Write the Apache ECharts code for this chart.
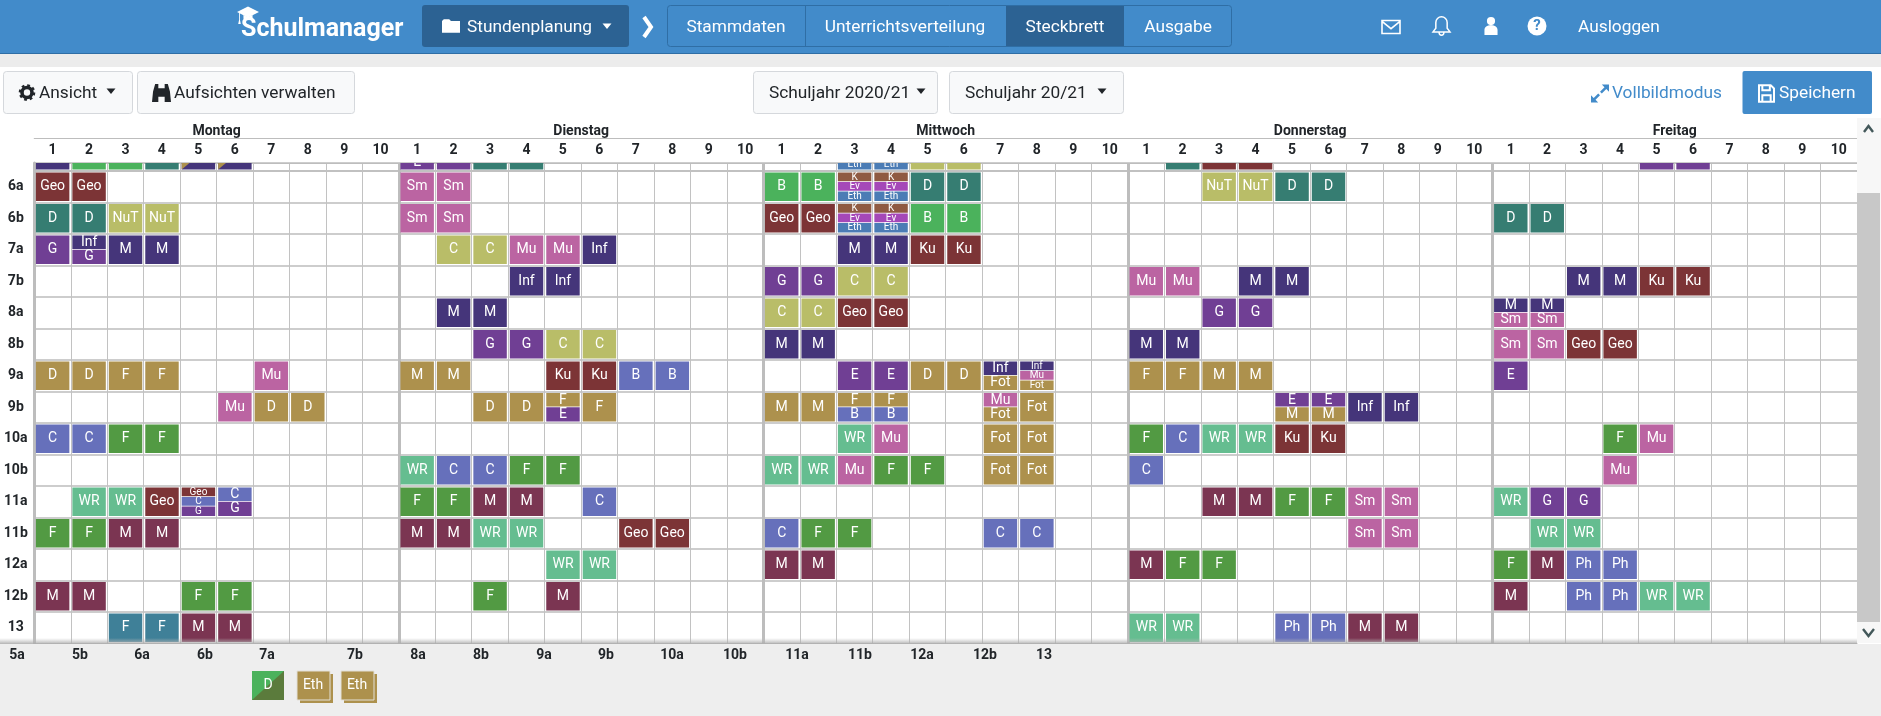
<!DOCTYPE html>
<html lang="de"><head><meta charset="utf-8"><title>Schulmanager Steckbrett</title>
<style>html,body{margin:0;padding:0;background:#fff;overflow:hidden}#c{width:1881px;height:716px}</style>
<script src="https://cdn.jsdelivr.net/npm/echarts@6/dist/echarts.min.js"></script></head>
<body><div id="c"></div>
<script>
// ---- categories / tick labels
const dayNames = ['Montag','Dienstag','Mittwoch','Donnerstag','Freitag'];
const periodNames = ['1','2','3','4','5','6','7','8','9','10'];
const classRows = ['6a','6b','7a','7b','8a','8b','9a','9b','10a','10b','11a','11b','12a','12b','13'];
const classTabs = ['5a','5b','6a','6b','7a','7b','8a','8b','9a','9b','10a','10b','11a','11b','12a','12b','13'];

// ---- teacher colours
const teacherColors = {I:'#45357a',P:'#703f94',R:'#7c3436',W:'#7b3552',K:'#bb64a2',T:'#ad914d',O:'#b9bd68',
  L:'#6670bb',G:'#529a43',A:'#4bb25c',M:'#65bd90',S:'#367d72',B:'#3f8098',N:'#8f5a42',V:'#a548b8',E:'#4b7cb5'};

// ---- lessons per class: [column 0-49, subjects, teacher colours, optional second teacher]
const row5b = [[0,'','I'],[1,'','A'],[2,'','A'],[3,'','S'],[4,'','I','T'],[5,'','I','T'],[10,'|E','P|P'],[11,'','P'],[12,'','S'],[13,'','S'],
  [22,'K|Ev|Eth','N|V|E'],[23,'K|Ev|Eth','N|V|E'],[24,'','O'],[25,'','O'],[31,'','S'],[32,'','R'],[33,'','R'],[44,'','P'],[45,'','P']];
const row6a = [[0,'Geo','R'],[1,'Geo','R'],[10,'Sm','K'],[11,'Sm','K'],[20,'B','A'],[21,'B','A'],[22,'K|Ev|Eth','N|V|E'],[23,'K|Ev|Eth','N|V|E'],
  [24,'D','S'],[25,'D','S'],[32,'NuT','O'],[33,'NuT','O'],[34,'D','S'],[35,'D','S']];
const row6b = [[0,'D','S'],[1,'D','S'],[2,'NuT','O'],[3,'NuT','O'],[10,'Sm','K'],[11,'Sm','K'],[20,'Geo','R'],[21,'Geo','R'],
  [22,'K|Ev|Eth','N|V|E'],[23,'K|Ev|Eth','N|V|E'],[24,'B','A'],[25,'B','A'],[40,'D','S'],[41,'D','S']];
const row7a = [[0,'G','P'],[1,'Inf|G','I|P'],[2,'M','I'],[3,'M','I'],[11,'C','O'],[12,'C','O'],[13,'Mu','K'],[14,'Mu','K'],[15,'Inf','I'],
  [22,'M','I'],[23,'M','I'],[24,'Ku','R'],[25,'Ku','R']];
const row7b = [[13,'Inf','I'],[14,'Inf','I'],[20,'G','P'],[21,'G','P'],[22,'C','O'],[23,'C','O'],[30,'Mu','K'],[31,'Mu','K'],[33,'M','I'],[34,'M','I'],
  [42,'M','I'],[43,'M','I'],[44,'Ku','R'],[45,'Ku','R']];
const row8a = [[11,'M','I'],[12,'M','I'],[20,'C','O'],[21,'C','O'],[22,'Geo','R'],[23,'Geo','R'],[32,'G','P'],[33,'G','P'],[40,'M|Sm','I|K'],[41,'M|Sm','I|K']];
const row8b = [[12,'G','P'],[13,'G','P'],[14,'C','O'],[15,'C','O'],[20,'M','I'],[21,'M','I'],[30,'M','I'],[31,'M','I'],[40,'Sm','K'],[41,'Sm','K'],[42,'Geo','R'],[43,'Geo','R']];
const row9a = [[0,'D','T'],[1,'D','T'],[2,'F','T'],[3,'F','T'],[6,'Mu','K'],[10,'M','T'],[11,'M','T'],[14,'Ku','R'],[15,'Ku','R'],[16,'B','L'],[17,'B','L'],
  [22,'E','P'],[23,'E','P'],[24,'D','T'],[25,'D','T'],[26,'Inf|Fot','I|T'],[27,'Inf|Mu|Fot','I|K|T'],[30,'F','T'],[31,'F','T'],[32,'M','T'],[33,'M','T'],[40,'E','P']];
const row9b = [[5,'Mu','K'],[6,'D','T'],[7,'D','T'],[12,'D','T'],[13,'D','T'],[14,'F|E','T|P'],[15,'F','T'],[20,'M','T'],[21,'M','T'],[22,'F|B','T|L'],[23,'F|B','T|L'],
  [26,'Mu|Fot','K|T'],[27,'Fot','T'],[34,'E|M','P|T'],[35,'E|M','P|T'],[36,'Inf','I'],[37,'Inf','I']];
const row10a = [[0,'C','L'],[1,'C','L'],[2,'F','G'],[3,'F','G'],[22,'WR','M'],[23,'Mu','K'],[26,'Fot','T'],[27,'Fot','T'],[30,'F','G'],[31,'C','L'],[32,'WR','M'],[33,'WR','M'],
  [34,'Ku','R'],[35,'Ku','R'],[43,'F','G'],[44,'Mu','K']];
const row10b = [[10,'WR','M'],[11,'C','L'],[12,'C','L'],[13,'F','G'],[14,'F','G'],[20,'WR','M'],[21,'WR','M'],[22,'Mu','K'],[23,'F','G'],[24,'F','G'],[26,'Fot','T'],[27,'Fot','T'],[30,'C','L'],[43,'Mu','K']];
const row11a = [[1,'WR','M'],[2,'WR','M'],[3,'Geo','R'],[4,'Geo|C|G','R|L|P'],[5,'C|G','L|P'],[10,'F','G'],[11,'F','G'],[12,'M','W'],[13,'M','W'],[15,'C','L'],
  [32,'M','W'],[33,'M','W'],[34,'F','G'],[35,'F','G'],[36,'Sm','K'],[37,'Sm','K'],[40,'WR','M'],[41,'G','P'],[42,'G','P']];
const row11b = [[0,'F','G'],[1,'F','G'],[2,'M','W'],[3,'M','W'],[10,'M','W'],[11,'M','W'],[12,'WR','M'],[13,'WR','M'],[16,'Geo','R'],[17,'Geo','R'],
  [20,'C','L'],[21,'F','G'],[22,'F','G'],[26,'C','L'],[27,'C','L'],[36,'Sm','K'],[37,'Sm','K'],[41,'WR','M'],[42,'WR','M']];
const row12a = [[14,'WR','M'],[15,'WR','M'],[20,'M','W'],[21,'M','W'],[30,'M','W'],[31,'F','G'],[32,'F','G'],[40,'F','G'],[41,'M','W'],[42,'Ph','L'],[43,'Ph','L']];
const row12b = [[0,'M','W'],[1,'M','W'],[4,'F','G'],[5,'F','G'],[12,'F','G'],[14,'M','W'],[40,'M','W'],[42,'Ph','L'],[43,'Ph','L'],[44,'WR','M'],[45,'WR','M']];
const row13 = [[2,'F','B'],[3,'F','B'],[4,'M','W'],[5,'M','W'],[30,'WR','M'],[31,'WR','M'],[34,'Ph','L'],[35,'Ph','L'],[36,'M','W'],[37,'M','W']];

const allRows = [row6a,row6b,row7a,row7b,row8a,row8b,row9a,row9b,row10a,row10b,row11a,row11b,row12a,row12b,row13];

// ---- build
const periodAxis = dayNames.flatMap(() => periodNames);
const lessons = [];
allRows.forEach((r, i) => r.forEach(l => lessons.push([l[0], i, l[1], l[2], l[3]])));
const stripLessons = row5b.map(l => [l[0], 0, l[1], l[2], l[3]]);

const FF = 'Roboto, sans-serif';
function lessonShape(params, api, list, fullH) {
  const l = list[params.dataIndex];
  const p = api.coord([l[0], l[1]]);
  const s = api.size([1, 1]);
  const bandH = fullH || s[1];
  const x = p[0] - s[0] / 2 + 1.6, w = s[0] - 3;
  const bottom = p[1] + s[1] / 2;
  const y = bottom - bandH + 1.6, h = bandH - 3;
  const texts = l[2].split('|'), cols = l[3].split('|');
  const n = cols.length, segH = h / n, children = [];
  const size = n >= 3 ? 10 : 14;
  cols.forEach((c, i) => {
    children.push({type:'rect', shape:{x, y:y + i * segH, width:w, height:segH - (i < n - 1 ? 0.8 : 0)}, style:{fill:teacherColors[c]}});
  });
  if (l[4]) children.push({type:'polygon', shape:{points:[[x,y],[x+w,y],[x,y+h]]}, style:{fill:teacherColors[l[4]]}});
  cols.forEach((c, i) => {
    if (texts[i]) children.push({type:'text', style:{x:x + w / 2, y:y + i * segH + segH / 2, text:texts[i], fill:'#fff',
      font:`${size}px ${FF}`, textAlign:'center', textVerticalAlign:'middle', textShadowColor:'#1a1a1a', textShadowOffsetX:1, textShadowOffsetY:1, textShadowBlur:0}});
  });
  return {type:'group', children};
}

// ---- chrome
const D = '#212529', NAV = '#428bca', DARK = '#2c6293', LINE = '#2f6ea5', UI = '17.3px';
const g = [], icons = [];
const rect = (x,y,width,height,fill,extra={}) => g.push({type:'rect', z:extra.z||1, shape:{x,y,width,height,r:extra.r||0},
  style:{fill, stroke:extra.stroke||null, lineWidth:extra.lw||1}});
const txt = (x,y,text,font,fill,align='left') => g.push({type:'text', z:6, x, y, style:{text,font:`${font} ${FF}`,fill,textAlign:align,textVerticalAlign:'middle'}});
const path = (x,y,w,h,d,fill,stroke,lw) => icons.push({type:'path', shape:{pathData:d,x,y,width:w,height:h,layout:'center'},
  style:{fill:fill||'none',stroke:stroke||null,lineWidth:lw||1}});
const poly = (pts,fill) => g.push({type:'polygon', z:6, shape:{points:pts}, style:{fill}});
const caret = (cx,cy,fill) => poly([[cx-4.5,cy-2.5],[cx+4.5,cy-2.5],[cx,cy+3]],fill);

// navbar
rect(0,0,1881,53,NAV); rect(0,53,1881,1,LINE); rect(0,54,1881,13,'#ececec');
txt(241,30,'Schulmanager','bold 25px','#fff');
path(237,6,22,12,'M12 1L24 7 12 13 0 7z','#fff');
path(243,15,10,5,'M0 0l5 2 5-2v4c-3 2-7 2-10 0z','#fff');
path(238,12,3,12,'M1 0h1v9l1 5h-3l1-5z','#fff');
rect(422,5,207,42,DARK,{r:3});
path(442,19,18,14,'M2 3h6l2 2h10v13H0V5z','#fff');
txt(467,28,'Stundenplanung',UI,'#fff');
caret(607,26,'#fff');
g.push({type:'polyline', z:6, shape:{points:[[644,17],[651,27],[644,37]]}, style:{fill:'none',stroke:'#fff',lineWidth:4}});
rect(667.5,5.5,564,41,NAV,{stroke:LINE,r:3});
rect(1006,6,118,40,DARK,{z:2});
rect(805,6,1,40,LINE,{z:2});
txt(736,28,'Stammdaten',UI,'#fff','center');
txt(905,28,'Unterrichtsverteilung',UI,'#fff','center');
txt(1065,28,'Steckbrett',UI,'#fff','center');
txt(1178,28,'Ausgabe',UI,'#fff','center');
path(1382,19,18,16,'M1 1h22v16H1zM1 2l11 9 11-9',null,'#fff',1.6);
path(1433,15,17,22,'M12 3a6 6 0 0 1 6 6v6l3 4H3l3-4V9a6 6 0 0 1 6-6zM9.5 20a2.5 2.5 0 0 0 5 0',null,'#fff',1.5);
path(1484,17,14,18,'M12 2a5 5 0 1 1 0 10a5 5 0 1 1 0-10zM4 24v-6c0-4 3-6 8-6s8 2 8 6v6z','#fff');
g.push({type:'circle', z:6, shape:{cx:1537,cy:26,r:9.5}, style:{fill:'#fff'}});
txt(1537,26.5,'?','bold 15px',NAV,'center');
txt(1578,28,'Ausloggen',UI,'#fff');

// toolbar
const btn = (x,w) => rect(x+.5,71.5,w,42,'#f8f9fa',{stroke:'#d5d8dc',r:3});
btn(3,129); btn(137,217); btn(753,184); btn(949,174);
g.push({type:'circle', z:6, shape:{cx:27,cy:92.5,r:5},   style:{fill:'none',stroke:D,lineWidth:3.6}});
g.push({type:'circle', z:6, shape:{cx:27,cy:92.5,r:7.2}, style:{fill:'none',stroke:D,lineWidth:2.2,lineDash:[2.8,2.85]}});
txt(39,94,'Ansicht',UI,D);
caret(111,91,D);
path(152,83,19,20,'M3 20l1-10 2-7h3v17zM21 20l-1-10-2-7h-3v17zM9 7h6v8H9z',D);
txt(174,94,'Aufsichten verwalten',UI,D);
txt(769,94,'Schuljahr 2020/21',UI,D);
caret(921,91,D);
txt(965,94,'Schuljahr 20/21',UI,D);
caret(1102,91,D);
path(1591,84,18,19,'M22 2h-8l3 3-5 5 2 2 5-5 3 3zM2 22h8l-3-3 5-5-2-2-5 5-3-3z',NAV);
txt(1612,94,'Vollbildmodus',UI,NAV);
rect(1742.5,71,129.5,43,NAV,{r:2});
path(1759,84,15,19,'M3 2h14l4 4v16H3zM7 2v6h9V2M7 22v-8h10v8',null,'#fff',2);
txt(1779,94,'Speichern',UI,'#fff');

// scrollbar
rect(1857,118,24,525,'#f7f7f7');
rect(1857,193,23,429,'#c8c8c8');
g.push({type:'polyline', z:6, shape:{points:[[1864,132],[1868.5,126],[1873,132]]}, style:{fill:'none',stroke:'#43585a',lineWidth:2.4}});
g.push({type:'polyline', z:6, shape:{points:[[1863,629],[1868.5,636],[1874,629]]}, style:{fill:'none',stroke:'#43585a',lineWidth:2.4}});

// bottom tray
rect(0,644,1881,72,'#eeeeee',{z:3});
g.push({type:'rect', z:5, shape:{x:0,y:638,width:1857,height:6}, style:{fill:new echarts.graphic.LinearGradient(0,0,0,1,[{offset:0,color:'rgba(190,190,190,0)'},{offset:1,color:'rgba(170,170,170,.9)'}])}});
const tabX = [17,80,142,205,267,355,418,481,544,606,672,735,797,860,922,985,1044];
classTabs.forEach((t,i) => txt(tabX[i],655,t,'bold 14px',D,'center'));

// palette of unplaced lessons
const shadowText = (x,y,t) => g.push({type:'text', z:7, x, y, style:{text:t,font:`14px ${FF}`,fill:'#fff',textAlign:'center',textVerticalAlign:'middle',textShadowColor:'#1a1a1a',textShadowOffsetX:1,textShadowOffsetY:1,textShadowBlur:0}});
g.push({type:'rect', z:5, shape:{x:252,y:671,width:32,height:29}, style:{fill:'#5b7b3c'}});
poly([[252,671],[284,671],[252,700]],'#4bb25c');
shadowText(268,685.5,'D');
[297,341].forEach(x => {
  rect(x+3,674,33,29,'#ad914d',{z:4});
  rect(x,671,33,29,'#ad914d',{z:5,stroke:'#e3e0d8'});
  shadowText(x+16,685.5,'Eth');
});

// ---- chart
const chart = echarts.init(document.getElementById('c'), null, {renderer:'canvas', width:1881, height:716});
const L = 34.3, W = 1822.7;
const gridLine = {show:true, interval:0, lineStyle:{color:'#c2c2c2', width:1}};
const thick = {show:true, interval:0, showMaxLine:false, lineStyle:{color:'#bdbdbd', width:3}};
const off = {axisLabel:{show:false}, axisTick:{show:false}, axisLine:{show:false}};
chart.setOption({
  animation:false, backgroundColor:'#fff', tooltip:{show:false}, graphic:{elements:g},
  grid:[{left:L, width:W, top:171, height:472.5},{left:L, width:W, top:163, height:8}],
  xAxis:[
    {gridIndex:0, type:'category', position:'top', data:periodAxis, ...off, splitLine:gridLine},
    {gridIndex:0, type:'category', position:'top', data:dayNames, ...off, splitLine:thick},
    {gridIndex:1, type:'category', position:'top', data:periodAxis, axisTick:{show:false},
      axisLine:{show:true, lineStyle:{color:'#bdbdbd', width:1.2}}, splitLine:gridLine,
      axisLabel:{interval:0, margin:6, color:D, fontFamily:FF, fontWeight:'bold', fontSize:14}},
    {gridIndex:1, type:'category', position:'top', offset:25, data:dayNames, axisTick:{show:false},
      axisLine:{show:true, lineStyle:{color:'#bdbdbd', width:1.2}}, splitLine:thick,
      axisLabel:{interval:0, margin:0, color:D, fontFamily:FF, fontWeight:'bold', fontSize:14}}
  ],
  yAxis:[
    {gridIndex:0, type:'category', inverse:true, data:classRows, axisTick:{show:false},
      axisLine:{show:true, lineStyle:{color:'#bdbdbd', width:3}},
      axisLabel:{interval:0, align:'center', margin:18.5, color:D, fontFamily:FF, fontWeight:'bold', fontSize:14},
      splitLine:{show:true, interval:0, lineStyle:{color:'#bdbdbd', width:1.6}}},
    {gridIndex:1, type:'category', inverse:true, data:['5b'], ...off, axisLine:{show:true, lineStyle:{color:'#bdbdbd', width:3}},
      splitLine:{show:true, interval:0, lineStyle:{color:'#bdbdbd', width:1.6}}}
  ],
  series:[
    {type:'custom', xAxisIndex:0, yAxisIndex:0, coordinateSystem:'cartesian2d', clip:true, silent:true,
      data:lessons.map(l => [l[0], l[1]]), encode:{x:0, y:1},
      renderItem:(p, api) => lessonShape(p, api, lessons)},
    {type:'custom', xAxisIndex:2, yAxisIndex:1, coordinateSystem:'cartesian2d', clip:true, silent:true,
      data:stripLessons.map(l => [l[0], l[1]]), encode:{x:0, y:1},
      renderItem:(p, api) => lessonShape(p, api, stripLessons, 31.5)},
    {type:'custom', coordinateSystem:'none', silent:true, clip:false, z:20, data:[[0]],
      renderItem:() => ({type:'group', children:icons})}
  ]
});
</script></body></html>
